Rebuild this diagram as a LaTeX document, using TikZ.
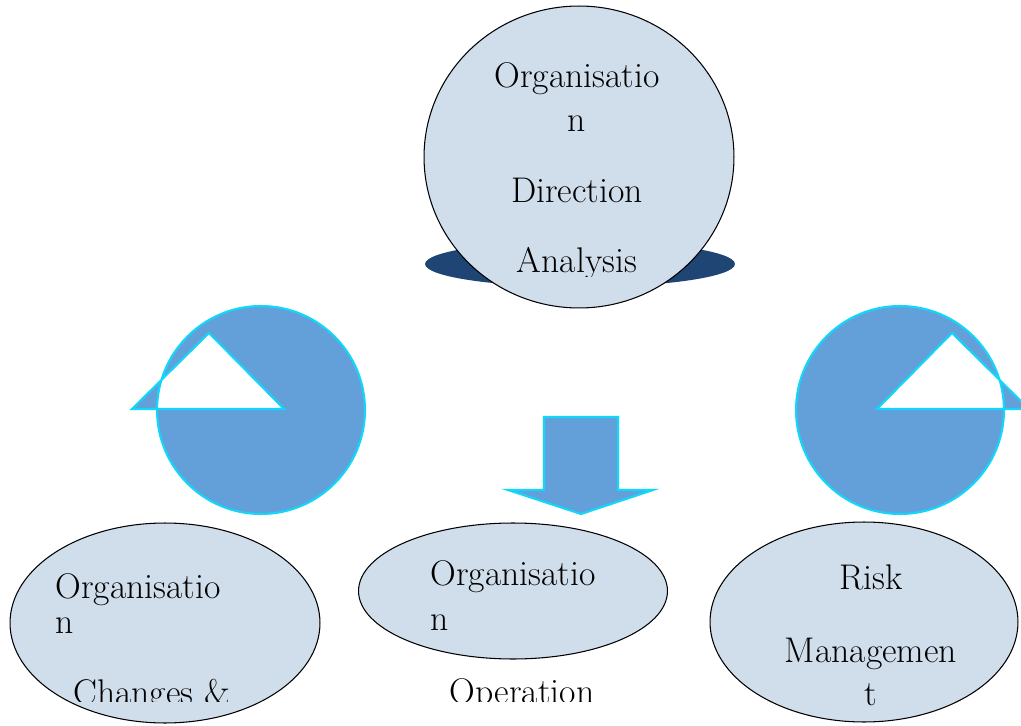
\documentclass[tikz,border=0pt]{standalone}
\usepackage{tikz}
\usetikzlibrary{shapes.geometric}
\definecolor{paleblue}{RGB}{208,222,236}
\definecolor{midblue}{RGB}{99,160,218}
\definecolor{edgecyan}{RGB}{18,214,250}
\definecolor{navyblue}{RGB}{30,69,115}

\begin{document}
\begin{tikzpicture}[x=0.02cm,y=-0.02cm,
    bubble/.style={ellipse,draw=black,line width=0.6pt,fill=paleblue,inner sep=0pt},
    turn/.style={fill=midblue,draw=edgecyan,line width=1.2pt,even odd rule},
    word/.style={inner sep=0pt,font=\fontsize{20.3}{24}\selectfont}]
  \useasboundingbox (0,0) rectangle (1021,726);
  % direction analysis on its dark base
  \node[ellipse,fill=navyblue,inner sep=0pt,minimum width=6.2cm,minimum height=0.92cm] (base) at (580,264) {};
  \node[bubble,minimum width=6.2cm,minimum height=6.04cm] (top) at (579,157) {};
  \begin{scope}
    \clip (400,0) rectangle (760,277);
    \foreach \n/\y/\t in {1/88/Organisatio, 2/132/n, 3/203/Direction, 4/273/Analysis}
      \node[word,anchor=base] (top-\n) at (577,\y) {\t};
  \end{scope}
  % circular arrows and the down arrow
  \draw[turn] (261,410) circle[radius=2.08cm] (132,409) -- (209,333) -- (284,409) -- cycle;
  \draw[turn] (900,410) circle[radius=2.08cm] (877,409) -- (952,333) -- (1029,409) -- cycle;
  \draw[turn] (544,417) -- (618,417) -- (618,490) -- (653,490) -- (581,514)
    -- (508,490) -- (544,490) -- cycle;
  % lower bubbles
  \node[bubble,minimum width=6.2cm,minimum height=4cm] (change) at (165,623) {};
  \node[bubble,minimum width=6.18cm,minimum height=2.72cm] (operate) at (513,591) {};
  \node[bubble,minimum width=6.16cm,minimum height=4cm] (risk) at (864,622) {};
  \begin{scope}
    \clip (0,300) rectangle (700,701);
    \foreach \n/\a/\x/\y/\t in {1/base west/55/598/Organisatio, 2/base west/55/633/n,
        3/base west/73/704/Changes \&}
      \node[word,anchor=\a] (change-\n) at (\x,\y) {\t};
    \foreach \n/\a/\x/\y/\t in {1/base west/430/585/Organisatio, 2/base west/430/630/n,
        3/base/522/703/Operation}
      \node[word,anchor=\a] (operate-\n) at (\x,\y) {\t};
  \end{scope}
  \foreach \n/\y/\t in {1/589/Risk, 2/662/Managemen, 3/705/t}
    \node[word,anchor=base] (risk-\n) at (871,\y) {\t};
\end{tikzpicture}
\end{document}
